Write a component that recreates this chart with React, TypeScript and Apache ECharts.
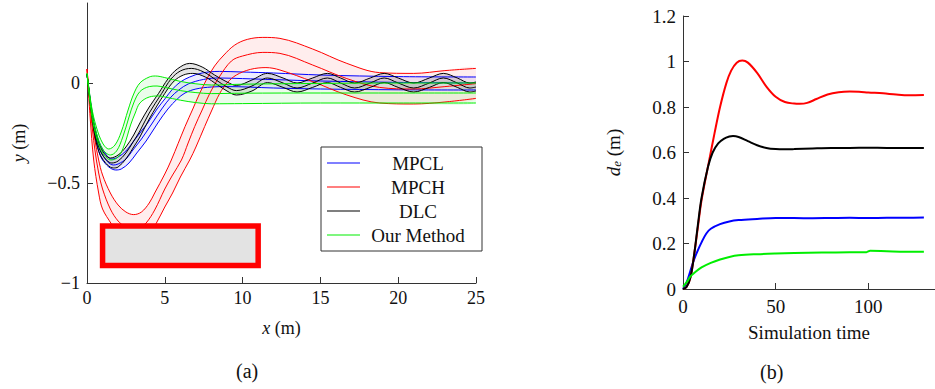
import React, { useEffect, useRef } from 'react';
import * as echarts from 'echarts';

const FONT = "'Liberation Serif', serif";
const TXT = '#111';
const AX = '#333';

// ---------- (a) trajectories: [x (m), y (m)] ----------
const mpclUpper: [number, number][] = [[0,0.045],[0.3,-0.13],[0.6,-0.25],[1,-0.33],[1.6,-0.38],[2,-0.37],[2.5,-0.34],[3,-0.29],[3.5,-0.24],[3.9,-0.2],[4.5,-0.13],[5,-0.08],[5.5,-0.03],[6,0.005],[6.6,0.03],[7.4,0.05],[8.5,0.058],[10,0.055],[12,0.05],[15,0.04],[20,0.032],[25,0.03]];
const mpclMid: [number, number][] = [[0,0.045],[0.3,-0.14],[0.6,-0.27],[1,-0.36],[1.7,-0.41],[2,-0.405],[2.5,-0.38],[3,-0.33],[3.5,-0.28],[4.2,-0.2],[4.8,-0.13],[5.4,-0.07],[5.9,-0.035],[6.5,-0.005],[7.5,0.018],[8.5,0.025],[10,0.022],[12,0.017],[15,0.01],[20,0.003],[25,0]];
const mpclLower: [number, number][] = [[0,0.045],[0.3,-0.15],[0.6,-0.29],[1,-0.385],[1.85,-0.435],[2.2,-0.43],[2.7,-0.4],[3.2,-0.35],[3.8,-0.29],[4.55,-0.2],[5.2,-0.13],[5.8,-0.08],[6.3,-0.05],[7,-0.03],[8,-0.02],[9,-0.018],[12,-0.025],[15,-0.03],[20,-0.034],[25,-0.035]];

const mpchUpper: [number, number][] = [[0,0.07],[0.25,-0.13],[0.5,-0.28],[0.75,-0.385],[1,-0.46],[1.5,-0.55],[2,-0.61],[2.5,-0.645],[3,-0.658],[3.5,-0.645],[4,-0.6],[4.35,-0.55],[5,-0.455],[5.42,-0.385],[6.3,-0.218],[6.8,-0.13],[7.24,-0.052],[7.7,0.02],[8.2,0.085],[8.8,0.14],[9.5,0.19],[10.3,0.218],[11.3,0.228],[12.4,0.223],[14.5,0.17],[16.7,0.098],[18.8,0.052],[21,0.048],[23,0.062],[25,0.073]];
const mpchMid: [number, number][] = [[0,0.07],[0.25,-0.16],[0.5,-0.33],[0.75,-0.45],[1,-0.53],[1.5,-0.63],[2,-0.69],[2.5,-0.72],[3,-0.73],[3.5,-0.715],[3.8,-0.7],[4.35,-0.635],[5,-0.53],[5.5,-0.46],[6.07,-0.385],[6.5,-0.3],[6.92,-0.218],[7.4,-0.135],[7.89,-0.052],[8.5,0.03],[9.28,0.11],[10,0.135],[11.3,0.153],[12.4,0.148],[14.5,0.09],[16.7,0.022],[18.8,-0.022],[21,-0.03],[23,-0.018],[25,-0.003]];
const mpchLower: [number, number][] = [[0,0.07],[0.2,-0.17],[0.43,-0.385],[0.75,-0.55],[1,-0.63],[1.57,-0.705],[2,-0.76],[2.5,-0.79],[3,-0.8],[3.5,-0.79],[4,-0.755],[4.46,-0.7],[5,-0.62],[5.5,-0.55],[6,-0.47],[6.6,-0.385],[7,-0.32],[7.56,-0.218],[8,-0.14],[8.53,-0.052],[9,0],[9.6,0.04],[10.5,0.068],[11.5,0.077],[12.4,0.065],[14.5,0.007],[16.7,-0.06],[18.8,-0.1],[21,-0.105],[23,-0.095],[25,-0.077]];

const dlcUpper: [number, number][] = [[0,0.045],[0.3,-0.14],[0.6,-0.26],[1,-0.34],[1.5,-0.375],[2,-0.36],[2.5,-0.32],[3,-0.26],[3.4,-0.2],[4,-0.12],[4.6,-0.052],[5.2,0.02],[5.8,0.07],[6.6,0.098],[7.4,0.08],[8.2,0.04],[9,0.005],[9.6,-0.012],[10.6,0.015],[11.6,0.048],[12.6,0.025],[13.5,0],[14.5,0.025],[15.45,0.048],[16.3,0.025],[17.2,0],[18.2,0.025],[19.1,0.048],[20,0.025],[21,0],[22,0.025],[22.9,0.048],[23.8,0.025],[24.6,0],[25,0.005]];
const dlcMid: [number, number][] = [[0,0.045],[0.3,-0.15],[0.6,-0.28],[1,-0.36],[1.6,-0.4],[2,-0.39],[2.5,-0.35],[3,-0.29],[3.4,-0.24],[4,-0.15],[4.8,-0.052],[5.4,0.02],[6,0.06],[6.7,0.073],[7.5,0.055],[8.3,0.015],[9,-0.02],[9.6,-0.038],[10.6,-0.015],[11.6,0.025],[12.6,0],[13.5,-0.025],[14.5,0],[15.45,0.025],[16.3,0],[17.2,-0.025],[18.2,0],[19.1,0.025],[20,0],[21,-0.025],[22,0],[22.9,0.025],[23.8,0],[24.6,-0.025],[25,-0.02]];
const dlcLower: [number, number][] = [[0,0.045],[0.3,-0.16],[0.6,-0.3],[1,-0.38],[1.7,-0.425],[2,-0.42],[2.5,-0.38],[3,-0.32],[3.4,-0.27],[4,-0.18],[5,-0.052],[5.6,0.01],[6.2,0.04],[6.8,0.048],[7.6,0.03],[8.4,-0.01],[9,-0.04],[9.6,-0.06],[10.6,-0.04],[11.6,0.002],[12.6,-0.022],[13.5,-0.045],[14.5,-0.022],[15.45,0.002],[16.3,-0.022],[17.2,-0.045],[18.2,-0.022],[19.1,0.002],[20,-0.022],[21,-0.045],[22,-0.022],[22.9,0.002],[23.8,-0.022],[24.6,-0.045],[25,-0.04]];

const oursUpper: [number, number][] = [[0,0.048],[0.3,-0.12],[0.6,-0.22],[1,-0.3],[1.4,-0.33],[1.8,-0.31],[2.2,-0.245],[2.64,-0.135],[3,-0.055],[3.4,0],[4,0.03],[4.4,0.035],[5,0.027],[6,0.008],[7,-0.004],[8,-0.01],[10,-0.006],[15,-0.002],[20,0],[25,0]];
const oursMid: [number, number][] = [[0,0.048],[0.3,-0.14],[0.6,-0.25],[1,-0.33],[1.5,-0.36],[1.9,-0.34],[2.3,-0.27],[2.7,-0.17],[3,-0.1],[3.4,-0.043],[4,-0.018],[4.5,-0.015],[5,-0.022],[6,-0.038],[7,-0.048],[8,-0.053],[10,-0.051],[15,-0.05],[20,-0.05],[25,-0.05]];
const oursLower: [number, number][] = [[0,0.048],[0.3,-0.16],[0.6,-0.27],[1,-0.35],[1.55,-0.385],[2,-0.37],[2.4,-0.31],[2.8,-0.21],[3.1,-0.15],[3.4,-0.1],[4,-0.07],[4.6,-0.065],[5,-0.07],[6,-0.086],[7,-0.098],[8,-0.104],[10,-0.103],[15,-0.1],[20,-0.1],[25,-0.1]];

// obstacle corners (m)
const obstacleX = [1, 11];
const obstacleY = [-0.912, -0.715];

// ---------- (b) d_e over simulation time: [t, d_e (m)] ----------
const deMpcl: [number, number][] = [[0,0],[2,0.03],[4,0.08],[6,0.13],[8,0.17],[10,0.205],[12.6,0.244],[15,0.265],[20,0.285],[25,0.297],[30,0.303],[40,0.308],[50,0.312],[60,0.312],[70,0.311],[80,0.312],[90,0.313],[100,0.312],[110,0.313],[120,0.313],[130,0.314]];
const deMpch: [number, number][] = [[0,0],[2,0.01],[4,0.05],[6,0.15],[8,0.27],[10,0.39],[14,0.56],[17,0.684],[20,0.8],[23.4,0.905],[26,0.96],[29,0.995],[32,1.004],[35,0.995],[40,0.95],[45,0.89],[50,0.845],[55,0.822],[60,0.815],[63,0.814],[67,0.818],[72,0.835],[78,0.855],[84,0.865],[90,0.868],[95,0.867],[100,0.864],[108,0.86],[115,0.855],[122,0.852],[130,0.853]];
const deDlc: [number, number][] = [[0,0],[2,0.01],[4,0.05],[6,0.15],[8,0.28],[10,0.4],[13.5,0.537],[16,0.6],[19,0.64],[22,0.66],[25,0.67],[27,0.672],[30,0.668],[35,0.65],[40,0.632],[45,0.62],[50,0.615],[55,0.614],[60,0.615],[70,0.618],[80,0.62],[90,0.62],[100,0.621],[110,0.62],[120,0.62],[130,0.62]];
const deOurs: [number, number][] = [[0,0.01],[2,0.03],[4,0.055],[6,0.07],[10,0.095],[15,0.115],[20,0.13],[25,0.141],[30,0.148],[40,0.153],[50,0.156],[60,0.158],[75,0.16],[90,0.161],[99,0.162],[101,0.168],[110,0.166],[120,0.164],[130,0.164]];

const legendNames = ['MPCL', 'MPCH', 'DLC', 'Our Method'];
const leftYTicks = [-1, -0.5, 0];
const rightXTicks = [0, 50, 100];

const methods = [
  { name: 'MPCL', color: '#0000ff', band: 'rgba(0,0,255,0.07)', upper: mpclUpper, mid: mpclMid, lower: mpclLower },
  { name: 'MPCH', color: '#ff0000', band: 'rgba(255,0,0,0.07)', upper: mpchUpper, mid: mpchMid, lower: mpchLower },
  { name: 'DLC', color: '#000000', band: 'rgba(0,0,0,0.1)', upper: dlcUpper, mid: dlcMid, lower: dlcLower },
  { name: 'Our Method', color: '#00ee00', band: 'rgba(0,220,0,0.08)', upper: oursUpper, mid: oursMid, lower: oursLower },
];
const deSeries = [
  { name: 'MPCL d_e', color: '#0000ff', data: deMpcl },
  { name: 'MPCH d_e', color: '#ff0000', data: deMpch },
  { name: 'DLC d_e', color: '#000000', data: deDlc },
  { name: 'Our Method d_e', color: '#00ee00', data: deOurs },
];

const minus = (v: number) => String(v).replace('-', '\u2212');

function lineSeries(name: string, data: [number, number][], color: string, width: number, idx: number, z = 3) {
  return {
    type: 'line', name, data, xAxisIndex: idx, yAxisIndex: idx,
    smooth: 0.35, symbol: 'none', showSymbol: false, silent: true, clip: true, z,
    lineStyle: { color, width }, itemStyle: { color },
  };
}

function bandSeries(name: string, upper: [number, number][], lower: [number, number][], fill: string) {
  return {
    type: 'custom', name, xAxisIndex: 0, yAxisIndex: 0, silent: true, clip: true, z: 1,
    data: [[0, 0]],
    renderItem: (_p: any, api: any) => {
      const pts = upper.map((p) => api.coord(p)).concat(lower.slice().reverse().map((p) => api.coord(p)));
      return { type: 'polygon', shape: { points: pts, smooth: 0.3 }, style: { fill, stroke: 'none' } };
    },
  };
}

function buildOption() {
  const series: any[] = [];
  methods.forEach((m) => series.push(bandSeries(m.name + ' band', m.upper, m.lower, m.band)));
  methods.forEach((m) => {
    series.push(lineSeries(m.name, m.mid, m.color, 1, 0));
    series.push(lineSeries(m.name + ' upper', m.upper, m.color, 1, 0));
    series.push(lineSeries(m.name + ' lower', m.lower, m.color, 1, 0));
  });
  series.push({
    type: 'custom', name: 'obstacle', xAxisIndex: 0, yAxisIndex: 0, silent: true, z: 6,
    data: [[obstacleX[0], obstacleY[1], obstacleX[1], obstacleY[0]]],
    encode: { x: [0, 2], y: [1, 3] },
    renderItem: (_p: any, api: any) => {
      const a = api.coord([api.value(0), api.value(1)]);
      const b = api.coord([api.value(2), api.value(3)]);
      return {
        type: 'rect',
        shape: { x: a[0], y: a[1], width: b[0] - a[0], height: b[1] - a[1] },
        style: { fill: '#e3e3e3', stroke: '#ff0000', lineWidth: 5.5 },
      };
    },
  });
  deSeries.forEach((d) => series.push(lineSeries(d.name, d.data, d.color, 2, 1)));

  const axisCommon = {
    type: 'value',
    splitLine: { show: false },
    axisLine: { onZero: false, lineStyle: { color: AX, width: 1 } },
    axisTick: { inside: true, length: 6, lineStyle: { color: AX, width: 1 } },
  };
  const nameStyle = (size: number) => ({
    fontFamily: FONT, fontSize: size, color: TXT,
    rich: {
      i: { fontFamily: FONT, fontSize: size, fontStyle: 'italic', color: TXT },
      s: { fontFamily: FONT, fontSize: 13, fontStyle: 'italic', color: TXT, verticalAlign: 'bottom', lineHeight: 13 },
    },
  });
  const tickFont = (size: number) => ({ fontFamily: FONT, fontSize: size, color: TXT });

  return {
    animation: false,
    backgroundColor: '#ffffff',
    textStyle: { fontFamily: FONT },
    grid: [
      { left: 87, top: 3, width: 389, height: 280, containLabel: false },
      { left: 683, top: 16, width: 252, height: 273, containLabel: false },
    ],
    xAxis: [
      {
        ...axisCommon, gridIndex: 0, min: 0, max: 25, interval: 5,
        axisLabel: { ...tickFont(18), margin: 6 },
        name: '{i|x} (m)', nameLocation: 'middle', nameGap: 36, nameTextStyle: nameStyle(18),
      },
      {
        ...axisCommon, gridIndex: 1, min: 0, max: 136,
        axisTick: { ...axisCommon.axisTick, customValues: rightXTicks },
        axisLabel: { ...tickFont(19), margin: 8, customValues: rightXTicks },
        name: 'Simulation time', nameLocation: 'middle', nameGap: 34, nameTextStyle: nameStyle(19),
      },
    ],
    yAxis: [
      {
        ...axisCommon, gridIndex: 0, min: -1, max: 0.4,
        axisTick: { ...axisCommon.axisTick, customValues: leftYTicks },
        axisLabel: { ...tickFont(18), margin: 7, customValues: leftYTicks, formatter: minus },
        name: '{i|y} (m)', nameLocation: 'middle', nameGap: 59, nameTextStyle: nameStyle(18),
      },
      {
        ...axisCommon, gridIndex: 1, min: 0, max: 1.2, interval: 0.2,
        axisLabel: { ...tickFont(19), margin: 7 },
        name: '{i|d}{s|e} (m)', nameLocation: 'middle', nameGap: 60, nameTextStyle: nameStyle(19),
      },
    ],
    legend: {
      data: legendNames,
      orient: 'vertical',
      left: 321, top: 147,
      padding: [6, 11, 6, 6],
      itemGap: 4,
      itemWidth: 33, itemHeight: 1.2,
      icon: 'rect',
      backgroundColor: '#ffffff',
      borderColor: AX, borderWidth: 1, borderRadius: 0,
      selectedMode: false,
      formatter: '{c|{name}}',
      textStyle: {
        fontFamily: FONT, fontSize: 19, color: TXT, lineHeight: 20,
        rich: { c: { width: 106, align: 'center', fontFamily: FONT, fontSize: 19, lineHeight: 20, color: TXT } },
      },
      z: 10,
    },
    graphic: [
      { type: 'text', left: 236, top: 361, style: { text: '(a)', fontFamily: FONT, fontSize: 20, fill: TXT } },
      { type: 'text', left: 760, top: 362, style: { text: '(b)', fontFamily: FONT, fontSize: 20, fill: TXT } },
    ],
    series,
  };
}

export default function App() {
  const ref = useRef<HTMLDivElement>(null);
  useEffect(() => {
    if (!ref.current) return;
    const chart = echarts.init(ref.current, null, { renderer: 'svg' });
    chart.setOption(buildOption() as any);
    return () => chart.dispose();
  }, []);
  return (
    <div
      ref={ref}
      style={{ position: 'fixed', left: 0, top: 0, width: 935, height: 389, background: '#fff' }}
    />
  );
}
